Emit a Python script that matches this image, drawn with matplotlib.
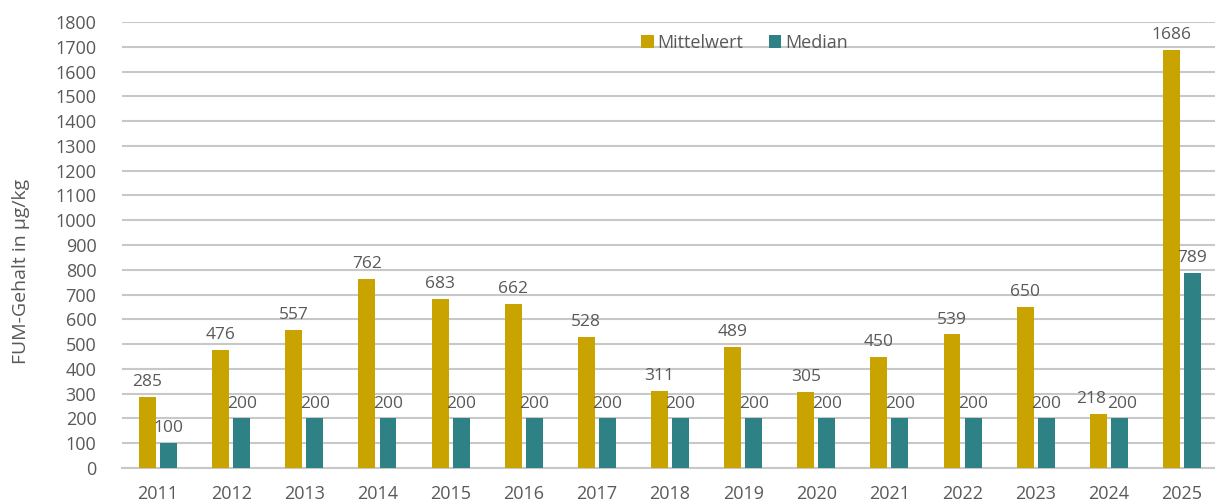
import matplotlib
matplotlib.use("Agg")
import matplotlib.pyplot as plt
import numpy as np

# data
years = ["2011", "2012", "2013", "2014", "2015", "2016", "2017", "2018",
         "2019", "2020", "2021", "2022", "2023", "2024", "2025"]
mittelwert = [285, 476, 557, 762, 683, 662, 528, 311, 489, 305, 450, 539, 650, 218, 1686]
median = [100, 200, 200, 200, 200, 200, 200, 200, 200, 200, 200, 200, 200, 200, 789]

gold = "#C9A300"
teal = "#2E8285"
text_col = "#595959"

plt.rcParams['font.family'] = ['Open Sans', 'DejaVu Sans']

fig = plt.figure(figsize=(12.15, 5.04), dpi=100)
ax = fig.add_axes([121.5 / 1215, 1 - 468 / 504, 1097 / 1215, 446 / 504])

x = np.arange(len(years))
w = 0.232
off = 0.144
b1 = ax.bar(x - off, mittelwert, w, color=gold, label="Mittelwert", zorder=3)
b2 = ax.bar(x + off, median, w, color=teal, label="Median", zorder=3)

for k, bars in enumerate((b1, b2)):
    for i, rect in enumerate(bars):
        h = rect.get_height()
        dx = 0
        # 2024: the two labels nearly touch, push them apart a little
        if i == 13:
            dx = -5 if k == 0 else 2
        ax.annotate(f"{h:.0f}", (rect.get_x() + rect.get_width() / 2, h),
                    xytext=(dx, 5), textcoords="offset points",
                    ha="center", va="bottom", fontsize=12.5, color=text_col, zorder=4)

ax.set_xlim(-0.5, len(years) - 0.5)
ax.set_ylim(0, 1800)
ax.set_yticks(np.arange(0, 1801, 100))
ax.set_xticks(x)
ax.set_xticklabels(years)
ax.yaxis.grid(True, color="#C8C8C8", linewidth=1.5, zorder=0)
ax.set_axisbelow(True)
for s in ["top", "right", "left"]:
    ax.spines[s].set_visible(False)
ax.spines["bottom"].set_color("#C8C8C8")
ax.spines["bottom"].set_linewidth(1.5)
ax.tick_params(axis="both", length=0, labelsize=13, colors=text_col)
ax.tick_params(axis="x", pad=12)
ax.tick_params(axis="y", pad=18)

ax.set_ylabel("FUM-Gehalt in µg/kg", fontsize=14, color=text_col)
ax.yaxis.set_label_coords(-0.083, 0.44)

leg = ax.legend(loc="center", bbox_to_anchor=(0.568, 0.953), ncol=2, frameon=False,
                fontsize=13, handlelength=0.7, handleheight=0.7, handletextpad=0.2,
                columnspacing=1.4)
for t in leg.get_texts():
    t.set_color(text_col)

fig.savefig("out.png", dpi=100)
